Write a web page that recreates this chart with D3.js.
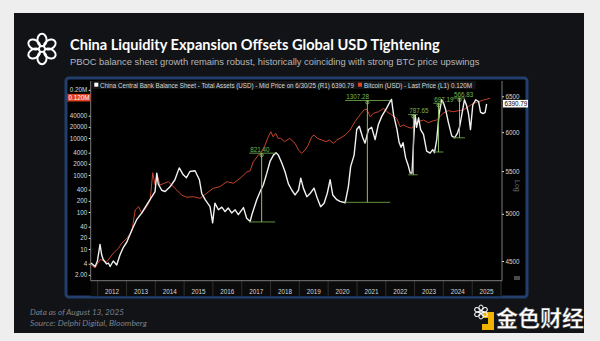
<!DOCTYPE html>
<html><head><meta charset="utf-8">
<script src="https://cdn.jsdelivr.net/npm/d3@7"></script>
<style>body{margin:0;background:#eeeeee}svg{display:block}</style>
</head><body>
<svg id="c" width="600" height="341"></svg>
<script>
// ---------------- DATA ----------------
const years = [2012,2013,2014,2015,2016,2017,2018,2019,2020,2021,2022,2023,2024,2025];

const btcYears = [2011.77,2011.91,2012.08,2012.31,2012.54,2012.72,2012.83,2013.01,2013.18,2013.30,2013.42,2013.53,2013.70,2013.82,2013.91,2013.99,2014.07,2014.16,2014.45,2014.74,2014.91,2015.09,2015.32,2015.55,2015.78,2016.01,2016.24,2016.48,2016.71,2016.94,2017.17,2017.29,2017.40,2017.58,2017.69,2017.81,2017.92,2018.01,2018.09,2018.18,2018.26,2018.35,2018.49,2018.66,2018.85,2018.97,2019.08,2019.20,2019.31,2019.43,2019.51,2019.62,2019.78,2019.92,2020.04,2020.18,2020.30,2020.41,2020.59,2020.76,2020.93,2021.10,2021.24,2021.34,2021.46,2021.57,2021.75,2021.93,2022.04,2022.21,2022.38,2022.50,2022.61,2022.73,2022.90,2023.02,2023.13,2023.31,2023.48,2023.65,2023.76,2023.88,2023.99,2024.17,2024.35,2024.52,2024.69,2024.87,2025.04,2025.22,2025.39,2025.51,2025.62];
const btcValues = [3.7,3.1,5.2,4.5,7.7,10.4,14.3,19.5,29,113,139,92,139,211,1150,537,1000,537,660,394,288,250,259,235,320,437,483,660,597,815,1200,1300,2290,3470,4260,6470,10800,14800,10800,13400,9800,9800,7950,9800,7190,4740,3860,4740,6470,10800,12000,9800,8830,7950,8830,7190,8830,9800,12000,16400,27600,41900,57100,59700,37700,46500,51400,63500,51400,41900,34000,20200,22400,20200,18300,24900,27600,30600,25900,29300,30600,37700,46500,54700,51400,54700,57100,70200,86700,95800,106400,112000,120000];

const pbocYears = [2011.77,2011.91,2011.99,2012.08,2012.14,2012.19,2012.31,2012.37,2012.43,2012.54,2012.66,2012.77,2012.89,2013.01,2013.18,2013.35,2013.53,2013.70,2013.88,2013.99,2014.05,2014.10,2014.22,2014.34,2014.51,2014.68,2014.83,2014.97,2015.08,2015.20,2015.38,2015.53,2015.61,2015.73,2015.90,2015.99,2016.07,2016.19,2016.31,2016.42,2016.53,2016.65,2016.77,2016.88,2017.06,2017.17,2017.29,2017.35,2017.52,2017.64,2017.75,2017.87,2017.98,2018.10,2018.19,2018.27,2018.39,2018.50,2018.62,2018.74,2018.85,2018.97,2019.05,2019.14,2019.26,2019.38,2019.51,2019.62,2019.74,2019.86,2019.97,2020.07,2020.16,2020.30,2020.41,2020.59,2020.70,2020.78,2020.90,2020.99,2021.08,2021.20,2021.28,2021.40,2021.51,2021.63,2021.74,2021.86,2022.03,2022.15,2022.20,2022.27,2022.39,2022.46,2022.53,2022.60,2022.69,2022.77,2022.85,2022.91,2022.96,2023.02,2023.07,2023.14,2023.21,2023.31,2023.42,2023.54,2023.63,2023.69,2023.77,2023.85,2023.94,2024.00,2024.08,2024.17,2024.29,2024.39,2024.48,2024.56,2024.64,2024.73,2024.80,2024.87,2024.94,2025.02,2025.12,2025.22,2025.29,2025.38,2025.45,2025.50];
const pbocValues = [4480,4445,4500,4670,4560,4515,4470,4480,4445,4500,4460,4560,4640,4695,4820,4935,5010,5100,5195,5255,5475,5345,5270,5255,5310,5395,5540,5455,5420,5495,5505,5395,5235,5160,5080,4900,5120,5045,5075,5025,5065,5010,5045,4990,5070,4950,4915,4990,5160,5255,5335,5475,5620,5700,5730,5700,5600,5495,5345,5270,5215,5270,5415,5295,5195,5235,5295,5180,5080,5120,5235,5395,5215,5160,5140,5125,5310,5555,5700,6035,6080,5925,5855,6035,6065,5900,6100,6215,6330,6425,6455,6240,6035,5870,5800,5860,5665,5580,5475,5475,5835,6240,6065,6195,6035,5970,5750,5725,5770,5730,5900,6240,6450,6410,6310,6140,5950,5925,5980,6065,6240,6450,6375,6255,6035,6375,6450,6425,6270,6255,6270,6390.79];

const leftTicks = [2,4,10,20,40,100,200,400,1000,2000,4000,10000,20000,40000,200000];
const rightTicks = [4500,5000,5500,6000,6500];

const markerLabels = ["821.40","1307.28","787.65","697.19","566.83"];
const markerFrom   = [2017.26,2020.59,2022.78,2023.65,2024.33];
const markerAt     = [2017.69,2021.36,2022.96,2023.83,2024.56];
const markerTo     = [2018.16,2022.15,2023.11,2024.00,2024.75];
const markerLow    = [4910,5130,5455,5740,5925];
const markerHigh   = [5725,6440,6240,6400,6475];

const lastBtc = 120000, lastPboc = 6390.79;

// ---------------- HELPERS ----------------
function dy(y){const yr=Math.floor(y),f=y-yr;const s=new Date(yr,0,1),e=new Date(yr+1,0,1);return new Date(+s+f*(e-s));}
function fit(sel,w){const m=sel.node().getComputedTextLength();const fs=parseFloat(sel.attr("font-size"));sel.attr("font-size",(fs*w/m).toFixed(2));return sel;}

const svg = d3.select("#c");

// background & panel
svg.append("rect").attr("width",600).attr("height",341).attr("fill","#eeeeee");
svg.append("rect").attr("x",14).attr("y",13).attr("width",570).attr("height",320).attr("fill","#121316");

// logo (interlocking loops)
const lg = svg.append("g").attr("transform","translate(42,49)");
d3.range(6).forEach(i=>{
  const a = i*60;
  lg.append("ellipse").attr("cx",0).attr("cy",-9).attr("rx",4.6).attr("ry",6.2)
    .attr("transform",`rotate(${a})`).attr("fill","none").attr("stroke","#ffffff").attr("stroke-width",2);
});

// title / subtitle
fit(svg.append("text").attr("x",70).attr("y",50).attr("font-family","Lato, 'Open Sans', sans-serif")
  .attr("font-weight","bold").attr("font-size",16).attr("fill","#ffffff")
  .text("China Liquidity Expansion Offsets Global USD Tightening"),370);
fit(svg.append("text").attr("x",70).attr("y",64.5).attr("font-family","'Liberation Sans', Arial, sans-serif")
  .attr("font-size",9).attr("fill","#b4b6ba")
  .text("PBOC balance sheet growth remains robust, historically coinciding with strong BTC price upswings"),410);

// footer
fit(svg.append("text").attr("x",30).attr("y",315).attr("font-family","Lato, sans-serif").attr("font-style","italic")
  .attr("font-size",8).attr("fill","#7b808c").text("Data as of August 13, 2025"),94);
fit(svg.append("text").attr("x",30).attr("y",326).attr("font-family","Lato, sans-serif").attr("font-style","italic")
  .attr("font-size",8).attr("fill","#7b808c").text("Source: Delphi Digital, Bloomberg"),117);

// ---------------- BLOOMBERG FRAME ----------------
svg.append("rect").attr("x",66).attr("y",78).attr("width",461).attr("height",219).attr("rx",3)
  .attr("fill","#020202").attr("stroke","#213e6c").attr("stroke-width",3);

const L=90.7, R=502, T=81, B=280.7;
const x = d3.scaleTime().domain([new Date(2012,0,1), new Date(2026,0,1)]).range([97.7,501]);
const yL = d3.scaleLog().domain([10,10000]).range([249,138]);
const yR = d3.scaleLog().domain([4500,6500]).range([261,96.3]);

svg.append("rect").attr("x",L).attr("y",T).attr("width",R-L).attr("height",B-T).attr("fill","#000");
svg.append("rect").attr("x",L).attr("y",B).attr("width",R-L).attr("height",15.5).attr("fill","#0b0b0b");

// legend
svg.append("rect").attr("x",L+1).attr("y",81).attr("width",384).attr("height",8).attr("fill","#141414");
svg.append("rect").attr("x",94.3).attr("y",82.7).attr("width",4).attr("height",4).attr("fill","#ffffff");
svg.append("text").attr("x",100).attr("y",87.6).attr("font-family","'Liberation Sans', Arial, sans-serif")
  .attr("font-size",6.3).attr("fill","#d8d8d8").attr("textLength",254).attr("lengthAdjust","spacingAndGlyphs")
  .text("China Central Bank Balance Sheet - Total Assets (USD) - Mid Price on 6/30/25 (R1) 6390.79");
svg.append("rect").attr("x",358).attr("y",82.7).attr("width",4).attr("height",4).attr("fill","#d8452c");
svg.append("text").attr("x",364).attr("y",87.6).attr("font-family","'Liberation Sans', Arial, sans-serif")
  .attr("font-size",6.3).attr("fill","#d8d8d8").attr("textLength",108).attr("lengthAdjust","spacingAndGlyphs")
  .text("Bitcoin (USD) - Last Price (L1) 0.120M");

// year separators and labels
const yg = svg.append("g");
years.concat([2026]).forEach(yr=>{
  yg.append("line").attr("x1",x(new Date(yr,0,1))).attr("x2",x(new Date(yr,0,1)))
    .attr("y1",B).attr("y2",B+15).attr("stroke","#3a3a3a").attr("stroke-width",0.8);
});
years.forEach(yr=>{
  const cx=(x(new Date(yr,0,1))+x(new Date(yr+1,0,1)))/2;
  yg.append("text").attr("x",cx).attr("y",B+13.5).attr("text-anchor","middle")
    .attr("font-family","'Liberation Sans', Arial, sans-serif").attr("font-size",6.3).attr("fill","#d6d6d6").text(yr);
});

// axes
const fmtL = v => v>=100000 ? (v/1e6).toFixed(2)+"M" : (v===2 ? "2.00" : String(v));
const axL = svg.append("g").attr("transform",`translate(${L},0)`)
  .call(d3.axisLeft(yL).tickValues(leftTicks).tickFormat(fmtL).tickSize(2).tickPadding(1.5));
const axR = svg.append("g").attr("transform",`translate(${R},0)`)
  .call(d3.axisRight(yR).tickValues(rightTicks).tickFormat(d=>d).tickSize(2).tickPadding(1.5));
[axL,axR].forEach(a=>{
  a.select(".domain").remove();
  a.selectAll("line").attr("stroke","#e0e0e0");
  a.selectAll("text").attr("font-family","'Liberation Sans', Arial, sans-serif").attr("font-size",6.3).attr("fill","#d8d8d8");
});
svg.append("line").attr("x1",L).attr("x2",L).attr("y1",T).attr("y2",B).attr("stroke","#9a9a9a").attr("stroke-width",0.8);
svg.append("line").attr("x1",R).attr("x2",R).attr("y1",T).attr("y2",B).attr("stroke","#9a9a9a").attr("stroke-width",0.8);
svg.append("line").attr("x1",L).attr("x2",R).attr("y1",B).attr("y2",B).attr("stroke","#9a9a9a").attr("stroke-width",0.8);

// "Log" label and small icon
svg.append("text").attr("transform","translate(515,180) rotate(90)").attr("font-family","'Liberation Sans', Arial, sans-serif")
  .attr("font-size",7).attr("fill","#6a6a6a").text("Log");
svg.append("rect").attr("x",514).attr("y",276).attr("width",6).attr("height",4).attr("fill","#4a4a4a");

// clip
svg.append("clipPath").attr("id","pc").append("rect").attr("x",L).attr("y",T).attr("width",R-L).attr("height",B-T);
const plot = svg.append("g").attr("clip-path","url(#pc)");

const btc = btcYears.map((y,i)=>({d:dy(y),v:btcValues[i]}));
const pboc = pbocYears.map((y,i)=>({d:dy(y),v:pbocValues[i]}));

plot.append("path").datum(btc).attr("fill","none").attr("stroke","#c4432c").attr("stroke-width",1)
  .attr("d",d3.line().x(d=>x(d.d)).y(d=>yL(d.v)));
plot.append("path").datum(pboc).attr("fill","none").attr("stroke","#f2f2f2").attr("stroke-width",1.4)
  .attr("stroke-linejoin","round").attr("d",d3.line().x(d=>x(d.d)).y(d=>yR(d.v)));

// markers
const mg = svg.append("g");
markerLabels.forEach((lab,i)=>{
  const x0=x(dy(markerFrom[i])), x1=x(dy(markerTo[i])), xa=x(dy(markerAt[i]));
  const ylo=yR(markerLow[i]), yhi=yR(markerHigh[i]);
  mg.append("line").attr("x1",x0).attr("x2",x1).attr("y1",ylo).attr("y2",ylo).attr("stroke","#5f9440").attr("stroke-width",1);
  mg.append("line").attr("x1",x0).attr("x2",x1).attr("y1",yhi).attr("y2",yhi).attr("stroke","#5f9440").attr("stroke-width",1);
  mg.append("line").attr("x1",xa).attr("x2",xa).attr("y1",ylo).attr("y2",yhi).attr("stroke","#8fbf6a").attr("stroke-width",1);
  mg.append("circle").attr("cx",xa).attr("cy",yhi+2).attr("r",1.6).attr("fill","none").attr("stroke","#8fbf6a").attr("stroke-width",0.8);
  mg.append("text").attr("x",x0+1).attr("y",yhi-1.5).attr("font-family","'Liberation Sans', Arial, sans-serif")
    .attr("font-size",6.3).attr("fill","#79b54e").text(lab);
});

// last-value labels
const yb = yL(lastBtc);
svg.append("rect").attr("x",67.5).attr("y",yb-4.2).attr("width",23).attr("height",7.6).attr("fill","#e0401f");
svg.append("text").attr("x",89.5).attr("y",yb+2).attr("text-anchor","end").attr("font-family","'Liberation Sans', Arial, sans-serif")
  .attr("font-size",6.3).attr("fill","#ffffff").text("0.120M");
const yp = yR(lastPboc);
svg.append("rect").attr("x",503).attr("y",yp-4).attr("width",25).attr("height",7.6).attr("fill","#ffffff");
svg.append("text").attr("x",504.5).attr("y",yp+2.2).attr("font-family","'Liberation Sans', Arial, sans-serif")
  .attr("font-size",6.3).attr("fill","#000").text("6390.79");

// watermark
const wm = svg.append("g");
wm.append("path").attr("d","M483,312 h11 v18 h-12 v-6 h6 v-6 h-5 z").attr("fill","#f0b400");
const fl = wm.append("g").attr("transform","translate(481,312)");
d3.range(6).forEach(i=>fl.append("ellipse").attr("cx",0).attr("cy",-4).attr("rx",2.2).attr("ry",3)
  .attr("transform",`rotate(${i*60})`).attr("fill","none").attr("stroke","#ffffff").attr("stroke-width",1));
wm.append("text").attr("x",496).attr("y",326).attr("font-family","'Noto Sans CJK SC', sans-serif").attr("font-weight","bold")
  .attr("font-size",22).attr("fill","#ffffff").attr("stroke","#333").attr("stroke-width",0.4).text("金色财经");
</script>
</body></html>
